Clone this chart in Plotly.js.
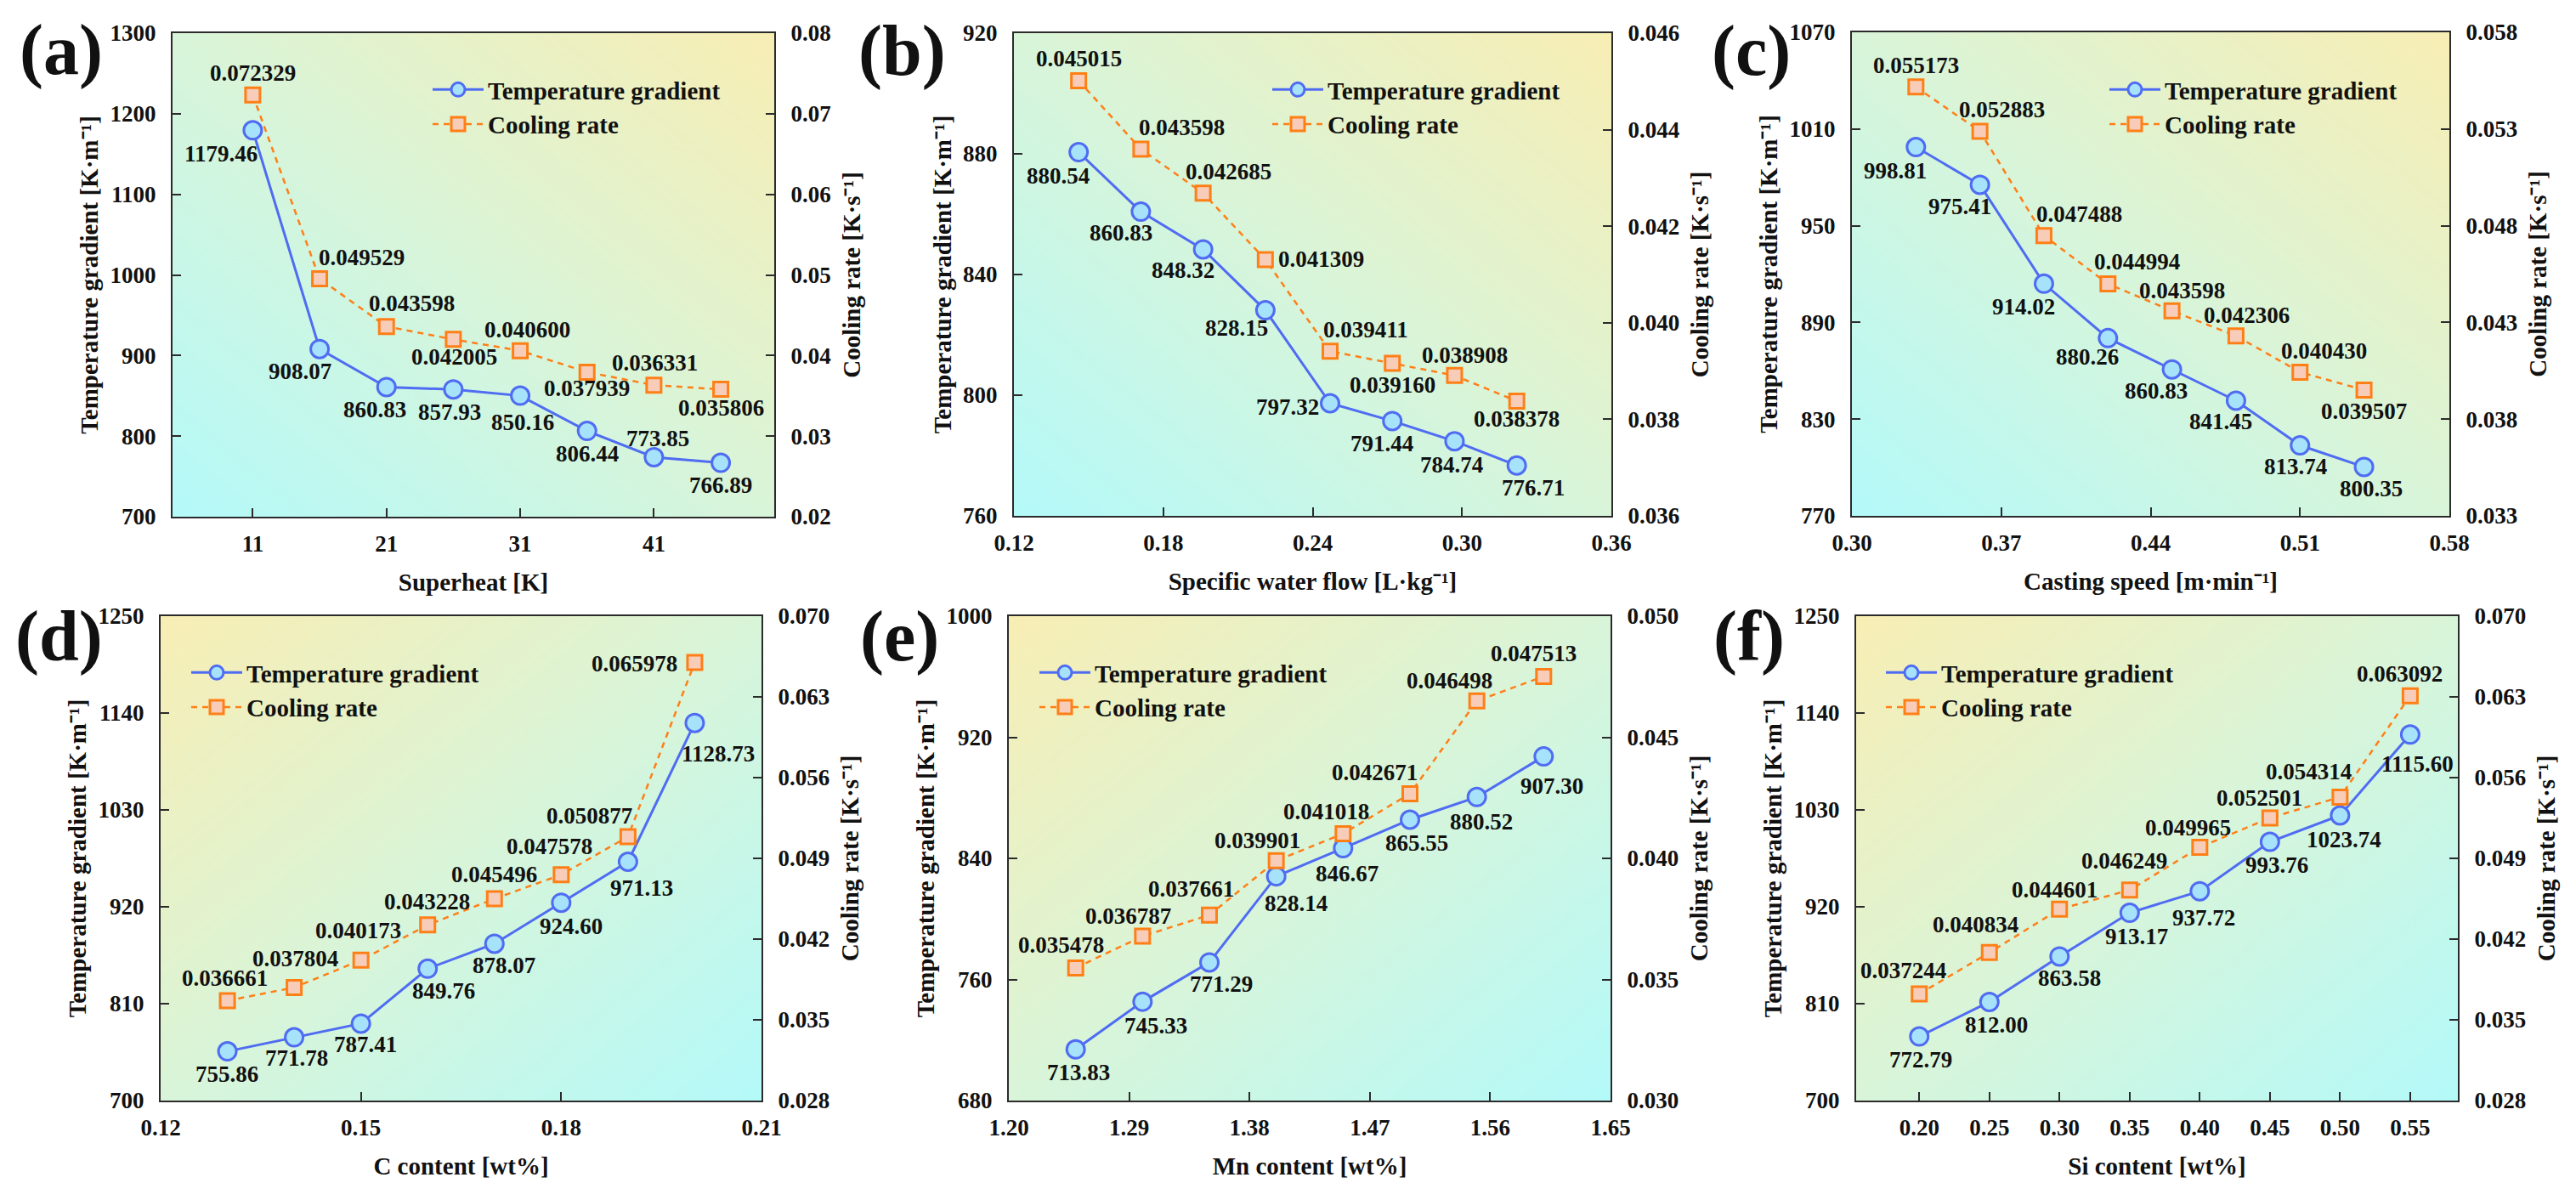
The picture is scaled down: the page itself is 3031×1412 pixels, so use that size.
<!DOCTYPE html>
<html>
<head>
<meta charset="utf-8">
<script src="https://cdn.plot.ly/plotly-3.0.1.min.js"></script>
<style>html,body{margin:0;padding:0;background:#fff;}#chart{width:3031px;height:1412px;}</style>
</head>
<body>
<div id="chart"></div>
<script>
// ---------------- DATA ----------------
// (a) Superheat
const aX  = [11, 16, 21, 26, 31, 36, 41, 46];
const aTG = [1179.46, 908.07, 860.83, 857.93, 850.16, 806.44, 773.85, 766.89];
const aCR = [0.072329, 0.049529, 0.043598, 0.042005, 0.040600, 0.037939, 0.036331, 0.035806];
// (b) Specific water flow
const bX  = [0.146, 0.171, 0.196, 0.221, 0.247, 0.272, 0.297, 0.322];
const bTG = [880.54, 860.83, 848.32, 828.15, 797.32, 791.44, 784.74, 776.71];
const bCR = [0.045015, 0.043598, 0.042685, 0.041309, 0.039411, 0.039160, 0.038908, 0.038378];
// (c) Casting speed
const cX  = [0.33, 0.36, 0.39, 0.42, 0.45, 0.48, 0.51, 0.54];
const cTG = [998.81, 975.41, 914.02, 880.26, 860.83, 841.45, 813.74, 800.35];
const cCR = [0.055173, 0.052883, 0.047488, 0.044994, 0.043598, 0.042306, 0.040430, 0.039507];
// (d) C content
const dX  = [0.13, 0.14, 0.15, 0.16, 0.17, 0.18, 0.19, 0.20];
const dTG = [755.86, 771.78, 787.41, 849.76, 878.07, 924.60, 971.13, 1128.73];
const dCR = [0.036661, 0.037804, 0.040173, 0.043228, 0.045496, 0.047578, 0.050877, 0.065978];
// (e) Mn content
const eX  = [1.25, 1.30, 1.35, 1.40, 1.45, 1.50, 1.55, 1.60];
const eTG = [713.83, 745.33, 771.29, 828.14, 846.67, 865.55, 880.52, 907.30];
const eCR = [0.035478, 0.036787, 0.037661, 0.039901, 0.041018, 0.042671, 0.046498, 0.047513];
// (f) Si content
const fX  = [0.20, 0.25, 0.30, 0.35, 0.40, 0.45, 0.50, 0.55];
const fTG = [772.79, 812.00, 863.58, 913.17, 937.72, 993.76, 1023.74, 1115.60];
const fCR = [0.037244, 0.040834, 0.044601, 0.046249, 0.049965, 0.052501, 0.054314, 0.063092];

const seriesNames = ['Temperature gradient', 'Cooling rate'];
const panelLetters = ['(a)', '(b)', '(c)', '(d)', '(e)', '(f)'];
const xTitles = ['Superheat [K]', 'Specific water flow [L·kg⁻¹]', 'Casting speed [m·min⁻¹]',
                 'C content [wt%]', 'Mn content [wt%]', 'Si content [wt%]'];
const yLeftTitle = 'Temperature gradient [K·m⁻¹]';
const yRightTitle = 'Cooling rate [K·s⁻¹]';

// ---------------- LABEL PLACEMENT (pixel offsets of label centre from marker) ----------------
const aTGoff = [[-37,28],[-23,26],[-14,27],[-4,27],[3,31],[0,27],[5,-22],[0,26]];
const aCRoff = [[0,-26],[49,-25],[30,-27],[1,21],[8,-25],[0,19],[1,-26],[0,22]];
const bTGoff = [[-24,28],[-23,25],[-24,25],[-34,21],[-50,4],[-12,27],[-3,28],[19,26]];
const bCRoff = [[0,-26],[48,-25],[30,-25],[66,0],[42,-25],[0,25],[12,-24],[0,21]];
const cTGoff = [[-24,28],[-24,26],[-24,27],[-24,22],[-19,25],[-18,25],[-5,25],[8,26]];
const cCRoff = [[0,-25],[26,-25],[42,-25],[34,-26],[12,-24],[13,-24],[28,-25],[0,25]];
const dTGoff = [[-1,27],[3,24],[5,25],[19,26],[11,26],[12,28],[16,31],[28,36]];
const dCRoff = [[-3,-26],[1,-34],[-3,-35],[-1,-27],[0,-29],[-14,-33],[-45,-25],[-71,1]];
const eTGoff = [[3,27],[16,28],[14,26],[23,32],[5,30],[8,28],[5,29],[10,35]];
const eCRoff = [[-17,-27],[-17,-24],[-22,-31],[-22,-24],[-20,-26],[-42,-25],[-32,-24],[-12,-27]];
const fTGoff = [[2,27],[8,27],[12,26],[8,28],[5,31],[8,27],[5,29],[9,35]];
const fCRoff = [[-19,-28],[-16,-33],[-6,-23],[-6,-34],[-14,-23],[-12,-23],[-37,-30],[-12,-26]];

// ---------------- STYLE ----------------
const W = 3031, H = 1412;
const FONT = 'Liberation Serif, Times New Roman, serif';
const BLUE = '#4F6CF2', BLUE_FILL = '#A6E2FA';
const ORANGE = '#FF7F17', ORANGE_FILL = '#F7CDB9';
const AXC = '#2b2b2b';

const panels = [
  {X:aX, TG:aTG, CR:aCR, tgOff:aTGoff, crOff:aCRoff, px:[203,911], py:[39,608], xr:[5,50], t0:11, dt:10, xf:'d',
   yl:[700,1300,100], yr:[0.02,0.08,0.01], yrf:'.2f', grad:'top', leg:[504,80], let:[72,59]},
  {X:bX, TG:bTG, CR:bCR, tgOff:bTGoff, crOff:bCRoff, px:[1193,1896], py:[39,607], xr:[0.12,0.36], t0:0.12, dt:0.06, xf:'.2f',
   yl:[760,920,40], yr:[0.036,0.046,0.002], yrf:'.3f', grad:'top', leg:[1492,80], let:[1061,60]},
  {X:cX, TG:cTG, CR:cCR, tgOff:cTGoff, crOff:cCRoff, px:[2179,2882], py:[38,607], xr:[0.30,0.58], t0:0.30, dt:0.07, xf:'.2f',
   yl:[770,1070,60], yr:[0.033,0.058,0.005], yrf:'.3f', grad:'top', leg:[2477,80], let:[2060,60]},
  {X:dX, TG:dTG, CR:dCR, tgOff:dTGoff, crOff:dCRoff, px:[189,896], py:[725,1295], xr:[0.12,0.21], t0:0.12, dt:0.03, xf:'.2f',
   yl:[700,1250,110], yr:[0.028,0.070,0.007], yrf:'.3f', grad:'bottom', leg:[220,766], let:[69,749]},
  {X:eX, TG:eTG, CR:eCR, tgOff:eTGoff, crOff:eCRoff, px:[1187,1895], py:[725,1295], xr:[1.20,1.65], t0:1.20, dt:0.09, xf:'.2f',
   yl:[680,1000,80], yr:[0.030,0.050,0.005], yrf:'.3f', grad:'bottom', leg:[1218,766], let:[1058,749]},
  {X:fX, TG:fTG, CR:fCR, tgOff:fTGoff, crOff:fCRoff, px:[2184,2892], py:[725,1295], xr:[0.155,0.584], t0:0.20, dt:0.05, xf:'.2f',
   yl:[700,1250,110], yr:[0.028,0.070,0.007], yrf:'.3f', grad:'bottom', leg:[2214,766], let:[2058,749]}
];

function gradientURL(kind) {
  const c = document.createElement('canvas');
  c.width = 500; c.height = 500;
  const g = c.getContext('2d');
  let gr;
  if (kind === 'top') gr = g.createLinearGradient(0, 500, 500, 0);     // cyan bottom-left -> yellow top-right
  else gr = g.createLinearGradient(500, 500, 0, 0);                     // cyan bottom-right -> yellow top-left
  gr.addColorStop(0, '#B4FAFA');
  gr.addColorStop(0.5, '#D9F5D9');
  gr.addColorStop(1, '#F8EEB4');
  g.fillStyle = gr;
  g.fillRect(0, 0, 500, 500);
  return c.toDataURL('image/png');
}
const gradTop = gradientURL('top');
const gradBottom = gradientURL('bottom');

const traces = [];
const layout = {
  width: W, height: H,
  margin: {l: 0, r: 0, t: 0, b: 0},
  paper_bgcolor: '#ffffff',
  plot_bgcolor: 'rgba(0,0,0,0)',
  font: {family: FONT, size: 27, color: '#111', weight: 'bold'},
  showlegend: true,
  annotations: [],
  images: []
};

const tickFont = {family: FONT, size: 27, color: '#111', weight: 'bold'};
const titleFont = {family: FONT, size: 29, color: '#111', weight: 'bold'};

panels.forEach((p, i) => {
  const k = i + 1;
  const xid = k === 1 ? 'x' : 'x' + k;
  const ylid = k === 1 ? 'y' : 'y' + k;
  const yrid = 'y' + (k + 6);
  const xkey = k === 1 ? 'xaxis' : 'xaxis' + k;
  const ylkey = k === 1 ? 'yaxis' : 'yaxis' + k;
  const yrkey = 'yaxis' + (k + 6);
  const legId = k === 1 ? 'legend' : 'legend' + k;

  const common = {showgrid: false, zeroline: false, showline: true, linecolor: AXC, linewidth: 2,
                  ticks: 'inside', ticklen: 10, tickwidth: 2, tickcolor: AXC, tickfont: tickFont, automargin: false};

  layout[xkey] = Object.assign({}, common, {
    domain: [p.px[0] / W, p.px[1] / W], anchor: ylid, range: p.xr, tick0: p.t0, dtick: p.dt, tickmode: 'linear',
    tickformat: p.xf, mirror: true, ticklabelstandoff: 7,
    title: {text: xTitles[i], font: titleFont, standoff: 20}
  });
  layout[ylkey] = Object.assign({}, common, {
    domain: [1 - p.py[1] / H, 1 - p.py[0] / H], anchor: xid, range: [p.yl[0], p.yl[1]], tick0: p.yl[0], dtick: p.yl[2],
    tickmode: 'linear', mirror: true, ticklabelstandoff: 12,
    title: {text: yLeftTitle, font: titleFont, standoff: 5}
  });
  layout[yrkey] = Object.assign({}, common, {
    overlaying: ylid, side: 'right', anchor: xid, range: [p.yr[0], p.yr[1]], tick0: p.yr[0], dtick: p.yr[2],
    tickmode: 'linear', tickformat: p.yrf, ticklabelstandoff: 12,
    title: {text: yRightTitle, font: titleFont, standoff: 15}
  });

  layout[legId] = {
    x: p.leg[0] / W, y: 1 - p.leg[1] / H, xanchor: 'left', yanchor: 'top',
    bgcolor: 'rgba(0,0,0,0)', borderwidth: 0, itemwidth: 60,
    font: {family: FONT, size: 29, color: '#111', weight: 'bold'}, tracegroupgap: 0
  };

  traces.push({
    type: 'scatter', mode: 'lines+markers', name: seriesNames[0], x: p.X, y: p.TG,
    xaxis: xid, yaxis: ylid, legend: legId,
    line: {color: BLUE, width: 3},
    marker: {symbol: 'circle', size: 21, color: BLUE_FILL, line: {color: BLUE, width: 3}},
    cliponaxis: false
  });
  traces.push({
    type: 'scatter', mode: 'lines+markers', name: seriesNames[1], x: p.X, y: p.CR,
    xaxis: xid, yaxis: yrid, legend: legId,
    line: {color: ORANGE, width: 2.5, dash: '7px,6px'},
    marker: {symbol: 'square', size: 17, color: ORANGE_FILL, line: {color: ORANGE, width: 3}},
    cliponaxis: false
  });

  layout.images.push({
    source: p.grad === 'top' ? gradTop : gradBottom,
    xref: xid + ' domain', yref: ylid + ' domain', x: 0, y: 1, sizex: 1, sizey: 1,
    xanchor: 'left', yanchor: 'top', sizing: 'stretch', layer: 'below'
  });

  const labFont = {family: FONT, size: 27, color: '#111', weight: 'bold'};
  p.X.forEach((xv, j) => {
    layout.annotations.push({
      xref: xid, yref: ylid, x: xv, y: p.TG[j], text: p.TG[j].toFixed(2), showarrow: false,
      xanchor: 'center', yanchor: 'middle', xshift: p.tgOff[j][0], yshift: -p.tgOff[j][1], font: labFont
    });
    layout.annotations.push({
      xref: xid, yref: yrid, x: xv, y: p.CR[j], text: p.CR[j].toFixed(6), showarrow: false,
      xanchor: 'center', yanchor: 'middle', xshift: p.crOff[j][0], yshift: -p.crOff[j][1], font: labFont
    });
  });

  layout.annotations.push({
    xref: 'paper', yref: 'paper', x: p.let[0] / W, y: 1 - p.let[1] / H, text: panelLetters[i], showarrow: false,
    xanchor: 'center', yanchor: 'middle', font: {family: FONT, size: 84, color: '#111', weight: 'bold'}
  });
});

Plotly.newPlot('chart', traces, layout, {displayModeBar: false, responsive: false});
</script>
</body>
</html>
